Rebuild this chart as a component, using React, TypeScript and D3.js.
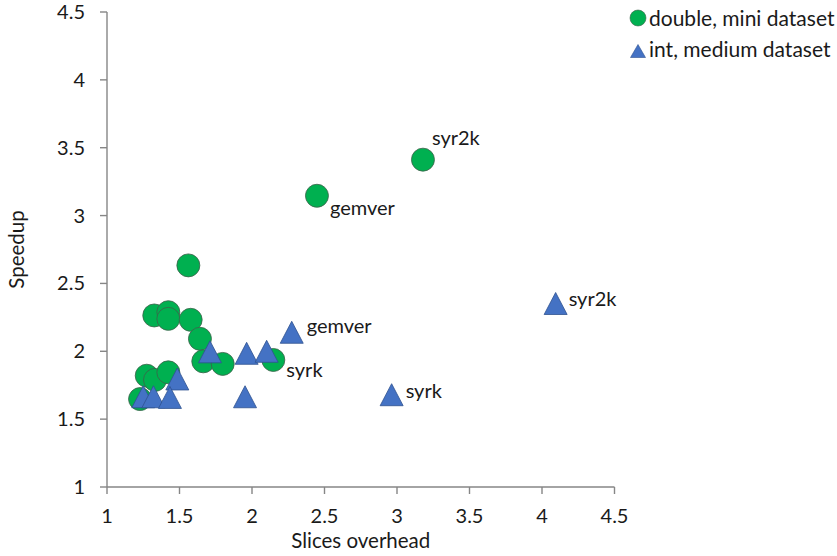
import React from 'react';
import * as d3 from 'd3';

// double, mini dataset
const dblOverhead = [1.561, 1.326, 1.423, 1.423, 1.577, 1.641, 1.664, 1.798, 2.147, 1.274, 1.331, 1.423, 1.228, 3.179, 2.448];
const dblSpeedup = [2.633, 2.264, 2.288, 2.239, 2.232, 2.092, 1.926, 1.907, 1.936, 1.82, 1.789, 1.845, 1.648, 3.412, 3.146];
const dblNames = ['', '', '', '', '', '', '', '', 'syrk', '', '', '', '', 'syr2k', 'gemver'];

// int, medium dataset
const intOverhead = [1.71, 1.963, 2.101, 2.274, 1.485, 1.25, 1.32, 1.434, 1.952, 2.963, 4.094];
const intSpeedup = [1.996, 1.985, 2.0, 2.14, 1.796, 1.665, 1.665, 1.66, 1.665, 1.68, 2.352];
const intNames = ['', '', '', 'gemver', '', '', '', '', '', 'syrk', 'syr2k'];

const xTicks = [1, 1.5, 2, 2.5, 3, 3.5, 4, 4.5];
const yTicks = [1, 1.5, 2, 2.5, 3, 3.5, 4, 4.5];

const FONT = 'Lato, "Open Sans", sans-serif';
const GREEN = '#00b050';
const BLUE = '#4472c4';
const AXIS = '#868686';
const TXT = '#1a1a1a';

// label offsets from the point: [dx, baseline dy]
const dblLabelPos: Record<string, [number, number]> = {
  syr2k: [9, -15],
  gemver: [13, 19],
  syrk: [13, 17],
};
const intLabelPos: Record<string, [number, number]> = {
  gemver: [15, 1],
  syrk: [14, 3],
  syr2k: [13, 2],
};

const tri = (cx: number, cy: number, w = 11.5, h = 11) =>
  `M${cx},${cy - h}L${cx + w},${cy + h}L${cx - w},${cy + h}Z`;

export default function App() {
  const width = 837, height = 556;
  const x = d3.scaleLinear().domain([1, 4.5]).range([107, 614.5]);
  const y = d3.scaleLinear().domain([1, 4.5]).range([487, 12]);

  const dbl = dblOverhead.map((v, i) => ({ x: v, y: dblSpeedup[i], name: dblNames[i] }));
  const ints = intOverhead.map((v, i) => ({ x: v, y: intSpeedup[i], name: intNames[i] }));

  return (
    <svg width={width} height={height} style={{ position: 'absolute', left: 0, top: 0, background: '#fff' }}
      fontFamily={FONT}>
      {/* axes */}
      <line x1={x(1)} x2={x(4.5)} y1={y(1)} y2={y(1)} stroke={AXIS} strokeWidth={1.4} />
      <line x1={x(1)} x2={x(1)} y1={y(1)} y2={y(4.5)} stroke={AXIS} strokeWidth={1.4} />
      {xTicks.map(t => (
        <g key={'x' + t}>
          <line x1={x(t)} x2={x(t)} y1={y(1)} y2={y(1) + 7} stroke={AXIS} strokeWidth={1.4} />
          <text x={x(t)} y={y(1) + 36} textAnchor="middle" fontSize={20} fill={TXT}>{t}</text>
        </g>
      ))}
      {yTicks.map(t => (
        <g key={'y' + t}>
          <line x1={x(1) - 7} x2={x(1)} y1={y(t)} y2={y(t)} stroke={AXIS} strokeWidth={1.4} />
          <text x={x(1) - 22} y={y(t) + 7} textAnchor="end" fontSize={20} fill={TXT}>{t}</text>
        </g>
      ))}
      <text x={(x(1) + x(4.5)) / 2} y={548} textAnchor="middle" fontSize={20.5} fill={TXT}>Slices overhead</text>
      <text transform={`translate(24,${(y(1) + y(4.5)) / 2}) rotate(-90)`} textAnchor="middle" fontSize={20.5} fill={TXT}>Speedup</text>

      {/* double, mini dataset */}
      {dbl.map((d, i) => (
        <circle key={'c' + i} cx={x(d.x)} cy={y(d.y)} r={11.5} fill={GREEN} stroke="#3f5f4a" strokeWidth={0.8} />
      ))}
      {/* int, medium dataset */}
      {ints.map((d, i) => (
        <path key={'t' + i} d={tri(x(d.x), y(d.y))} fill={BLUE} stroke="#2f528f" strokeWidth={0.8} />
      ))}

      {dbl.filter(d => d.name).map(d => {
        const [dx, dy] = dblLabelPos[d.name];
        return <text key={'dl' + d.name} x={x(d.x) + dx} y={y(d.y) + dy} fontSize={20} fill={TXT}>{d.name}</text>;
      })}
      {ints.filter(d => d.name).map(d => {
        const [dx, dy] = intLabelPos[d.name];
        return <text key={'il' + d.name} x={x(d.x) + dx} y={y(d.y) + dy} fontSize={20} fill={TXT}>{d.name}</text>;
      })}

      {/* legend */}
      <circle cx={638} cy={18} r={8} fill={GREEN} stroke="#3f5f4a" strokeWidth={0.6} />
      <text x={649} y={26} fontSize={21} fill={TXT}>double, mini dataset</text>
      <path d={tri(638, 51, 7.5, 6.5)} fill={BLUE} stroke="#2f528f" strokeWidth={0.6} />
      <text x={649} y={57} fontSize={21} fill={TXT}>int, medium dataset</text>
    </svg>
  );
}
